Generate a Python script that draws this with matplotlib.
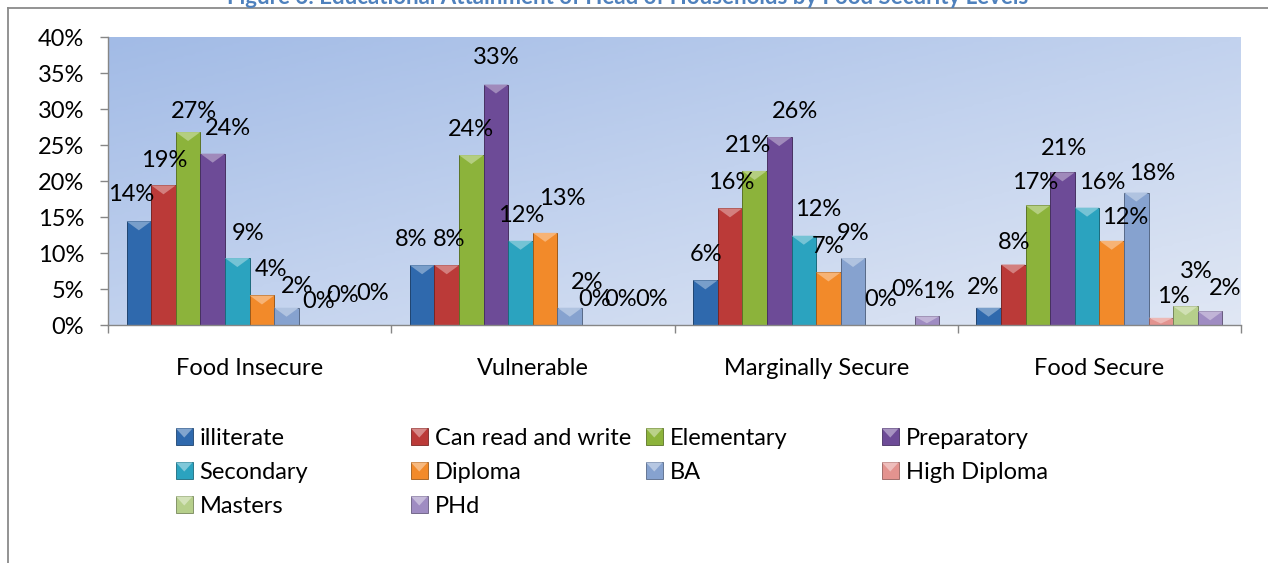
import matplotlib

matplotlib.use("Agg")

import matplotlib.pyplot as plt
import numpy as np
from matplotlib.colors import LinearSegmentedColormap, to_rgb
from matplotlib.legend_handler import HandlerBase
from matplotlib.lines import Line2D
from matplotlib.patches import Polygon, Rectangle


TITLE = "Figure 6: Educational Attainment of Head of Households by Food Security Levels"
CATEGORIES = ["Food Insecure", "Vulnerable", "Marginally Secure", "Food Secure"]
LEVELS = [
    "illiterate", "Can read and write", "Elementary", "Preparatory", "Secondary",
    "Diploma", "BA", "High Diploma", "Masters", "PHd",
]

# share of household heads (%) by education level, one list per food security group
FOOD_INSECURE = [14.4, 19.4, 26.8, 23.8, 9.3, 4.1, 2.4, 0.0, 0.0, 0.0]
VULNERABLE = [8.3, 8.3, 23.6, 33.4, 11.7, 12.8, 2.4, 0.0, 0.0, 0.0]
MARGINALLY_SECURE = [6.2, 16.2, 21.4, 26.1, 12.4, 7.3, 9.3, 0.0, 0.0, 1.2]
FOOD_SECURE = [2.4, 8.4, 16.6, 21.2, 16.3, 11.7, 18.4, 1.0, 2.6, 1.9]

Y_TICKS = [0, 5, 10, 15, 20, 25, 30, 35, 40]

COLORS = [
    "#2f69ad", "#bb3a38", "#8cb33b", "#6d4b97", "#2ba3bf",
    "#f28a2a", "#86a2cf", "#e3938f", "#b6cf8b", "#9f8cc2",
]

# data label nudges in pixels: horizontal shift and height of label centre above bar top
LABEL_DX = [
    [-8, 1, 6, 15, 11, 9, 11, 7, 7, 12],
    [-11, 2, 0, 0, 1, 17, 17, 0, 2, 8],
    [1, 1, -7, 16, 14, 0, 0, 3, 5, 11],
    [-5, 1, -3, 2, 15, 13, 16, 12, 11, 15],
]
LABEL_DY = [
    [27, 25, 21, 25, 25, 26, 21, 23, 29, 32],
    [26, 26, 26, 27, 25, 34, 25, 26, 26, 26],
    [26, 26, 25, 26, 26, 26, 25, 25, 35, 25],
    [20, 22, 23, 24, 25, 23, 19, 21, 35, 23],
]

W, H = 1268, 563
FONT = 17


def _mix(color, other, amount):
    c = np.array(to_rgb(color))
    o = np.array(to_rgb(other))
    return tuple(c + (o - c) * amount)


class BevelHandler(HandlerBase):
    def create_artists(self, legend, orig_handle, xdescent, ydescent, width, height, fontsize, trans):
        face = orig_handle.get_facecolor()
        x0, y0 = -xdescent, -ydescent
        rect = Rectangle((x0, y0), width, height, facecolor=face,
                         edgecolor=_mix(face, "black", 0.35), linewidth=0.6, transform=trans)
        tri = Polygon([[x0, y0 + height], [x0 + width, y0 + height], [x0 + width / 2, y0 + height * 0.45]],
                      closed=True, facecolor=_mix(face, "white", 0.4), linewidth=0, transform=trans)
        return [rect, tri]


def build():
    plt.rcParams["font.family"] = ["Lato", "DejaVu Sans"]
    fig = plt.figure(figsize=(W / 100, H / 100), dpi=100)
    fig.patch.set_facecolor("white")

    ax = fig.add_axes([108 / W, 1 - 325 / H, (1241 - 108) / W, (325 - 37) / H])
    ax.set_xlim(-0.5, 3.5)
    ax.set_ylim(0, 40)

    # diagonal blue wash behind the bars
    cmap = LinearSegmentedColormap.from_list("wash", ["#a2bbe6", "#c2d2ee", "#e0e7f4"])
    u = np.linspace(0, 1, 300)
    v = np.linspace(1, 0, 120)
    grad = (u[None, :] + (1 - v[:, None])) / 2
    ax.imshow(grad, extent=[-0.5, 3.5, 0, 40], origin="upper", aspect="auto",
              cmap=cmap, vmin=0, vmax=1, zorder=0)

    groups = [FOOD_INSECURE, VULNERABLE, MARGINALLY_SECURE, FOOD_SECURE]
    x = np.arange(len(CATEGORIES))
    bw = 0.869 / len(LEVELS)
    depth = 9 / 7.2  # bevel depth in percent units

    for j, level in enumerate(LEVELS):
        heights = [g[j] for g in groups]
        xs = x + (j - 4.5) * bw
        color = COLORS[j]
        ax.bar(xs, heights, width=bw, color=color, edgecolor=_mix(color, "black", 0.35),
               linewidth=0.7, zorder=2, label=level)
        for i, (xc, h) in enumerate(zip(xs, heights)):
            if h > 0:
                d = min(depth, h * 0.8)
                ax.add_patch(Polygon([[xc - bw / 2, h], [xc + bw / 2, h], [xc, h - d]], closed=True,
                                     facecolor=_mix(color, "white", 0.35), linewidth=0, zorder=3))
            ax.annotate(f"{h:.0f}%", xy=(xc, h),
                        xytext=(LABEL_DX[i][j] * 0.72, LABEL_DY[i][j] * 0.72),
                        textcoords="offset points", ha="center", va="center",
                        fontsize=FONT, color="black", zorder=4)

    for side in ["top", "right"]:
        ax.spines[side].set_visible(False)
    for side in ["left", "bottom"]:
        ax.spines[side].set_color("#868686")
        ax.spines[side].set_linewidth(1.0)

    ax.set_yticks(Y_TICKS, [f"{t}%" for t in Y_TICKS])
    ax.tick_params(axis="y", direction="out", length=5.8, width=1.0, color="#868686",
                   pad=11.5, labelsize=FONT)
    ax.set_xticks(np.arange(-0.5, 4.0, 1.0), [""] * 5)
    ax.set_xticks(x, CATEGORIES, minor=True)
    ax.tick_params(axis="x", which="major", direction="out", length=5.8, width=1.0, color="#868686")
    ax.tick_params(axis="x", which="minor", length=0, pad=24, labelsize=FONT)

    # legend laid out as four fixed-width columns
    handles = [Rectangle((0, 0), 1, 1, facecolor=c) for c in COLORS]
    col_x = [176, 411, 646, 882]
    for k, cx in enumerate(col_x):
        idx = list(range(k, len(LEVELS), 4))
        fig.legend([handles[i] for i in idx], [LEVELS[i] for i in idx],
                   loc="upper left", bbox_to_anchor=(cx / W, 1 - 428 / H),
                   frameon=False, fontsize=FONT, borderpad=0, borderaxespad=0,
                   handlelength=0.7, handleheight=0.7, handletextpad=0.3,
                   labelspacing=0.55, handler_map={Rectangle: BevelHandler()})

    # chart frame and the clipped caption above it
    frame = "#8a8a8a"
    fig.add_artist(Line2D([7.5 / W, 7.5 / W], [0, 1 - 8 / H], transform=fig.transFigure,
                          color=frame, linewidth=1.3))
    fig.add_artist(Line2D([7.5 / W, 1], [1 - 8 / H, 1 - 8 / H], transform=fig.transFigure,
                          color=frame, linewidth=1.3))
    fig.text(628 / W, 1 - 4 / H, TITLE, ha="center", va="baseline", fontsize=16,
             fontweight="bold", color="#4f81bd")

    fig.savefig("out.png", dpi=100, facecolor="white")
    plt.close(fig)


if __name__ == "__main__":
    build()
